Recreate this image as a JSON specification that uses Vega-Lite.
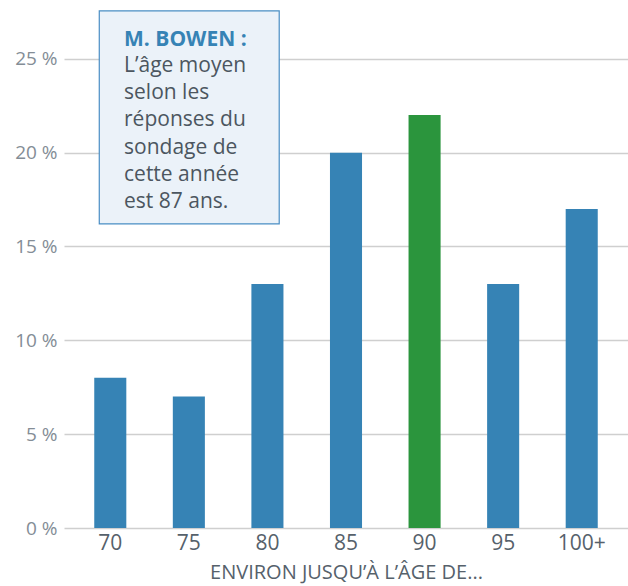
{
  "$schema": "https://vega.github.io/schema/vega-lite/v6.json",
  "autosize": {"type": "none"},
  "width": 564,
  "height": 518,
  "padding": {"left": 64, "top": 10, "right": 0, "bottom": 58},
  "background": "white",
  "config": {"view": {"stroke": null}, "font": "Open Sans"},
  "layer": [
    {
      "data": {"values": [
        {"age": "70", "pct": 8, "highlight": "no"},
        {"age": "75", "pct": 7, "highlight": "no"},
        {"age": "80", "pct": 13, "highlight": "no"},
        {"age": "85", "pct": 20, "highlight": "no"},
        {"age": "90", "pct": 22, "highlight": "yes"},
        {"age": "95", "pct": 13, "highlight": "no"},
        {"age": "100+", "pct": 17, "highlight": "no"}
      ]},
      "mark": {"type": "bar"},
      "encoding": {
        "x": {
          "field": "age", "type": "ordinal", "sort": null,
          "scale": {"paddingInner": 0.592, "paddingOuter": 0.385},
          "axis": {
            "title": "ENVIRON JUSQU’À L’ÂGE DE...",
            "labelAngle": 0, "labelFontSize": 21, "labelColor": "#56616b",
            "labelPadding": 4, "ticks": false, "domain": false,
            "titleFontSize": 20, "titleColor": "#56616b", "titleFontWeight": "normal",
            "titlePadding": 9
          }
        },
        "y": {
          "field": "pct", "type": "quantitative",
          "scale": {"domain": [0, 27.6], "nice": false},
          "axis": {
            "title": null, "values": [0, 5, 10, 15, 20, 25],
            "labelExpr": "datum.value + ' %'",
            "labelFontSize": 19, "labelColor": "#848d96", "labelPadding": 7,
            "ticks": false, "domain": false,
            "gridColor": "#cfcfcf", "gridWidth": 1.5
          }
        },
        "color": {
          "field": "highlight", "type": "nominal", "legend": null,
          "scale": {"domain": ["no", "yes"], "range": ["#3683b5", "#2b953d"]}
        }
      }
    },
    {
      "data": {"values": [{"x1": -0.14, "x2": 2.15, "y1": 16.2, "y2": 27.55}]},
      "mark": {"type": "rect", "fill": "#ebf2f9", "stroke": "#4a8ec4", "strokeWidth": 1.2},
      "encoding": {
        "x": {"field": "x1", "type": "quantitative", "scale": {"domain": [-0.589, 6.589], "nice": false, "zero": false}, "axis": null},
        "x2": {"field": "x2"},
        "y": {"field": "y1", "type": "quantitative"},
        "y2": {"field": "y2"}
      }
    },
    {
      "data": {"values": [{"x": 0.175, "y": 25.69, "label": "M. BOWEN :"}]},
      "mark": {"type": "text", "align": "left", "baseline": "alphabetic", "fontSize": 21, "fontWeight": "bold", "color": "#3683b5"},
      "encoding": {
        "x": {"field": "x", "type": "quantitative", "scale": {"domain": [-0.589, 6.589], "nice": false, "zero": false}, "axis": null},
        "y": {"field": "y", "type": "quantitative"},
        "text": {"field": "label"}
      }
    },
    {
      "data": {"values": [{"x": 0.175, "y": 24.31, "label": "L’âge moyen\nselon les\nréponses du\nsondage de\ncette année\nest 87 ans."}]},
      "mark": {"type": "text", "align": "left", "baseline": "alphabetic", "fontSize": 21, "lineBreak": "\n", "lineHeight": 27.3, "color": "#4c5660"},
      "encoding": {
        "x": {"field": "x", "type": "quantitative", "scale": {"domain": [-0.589, 6.589], "nice": false, "zero": false}, "axis": null},
        "y": {"field": "y", "type": "quantitative"},
        "text": {"field": "label"}
      }
    }
  ],
  "resolve": {"scale": {"x": "independent"}}
}
